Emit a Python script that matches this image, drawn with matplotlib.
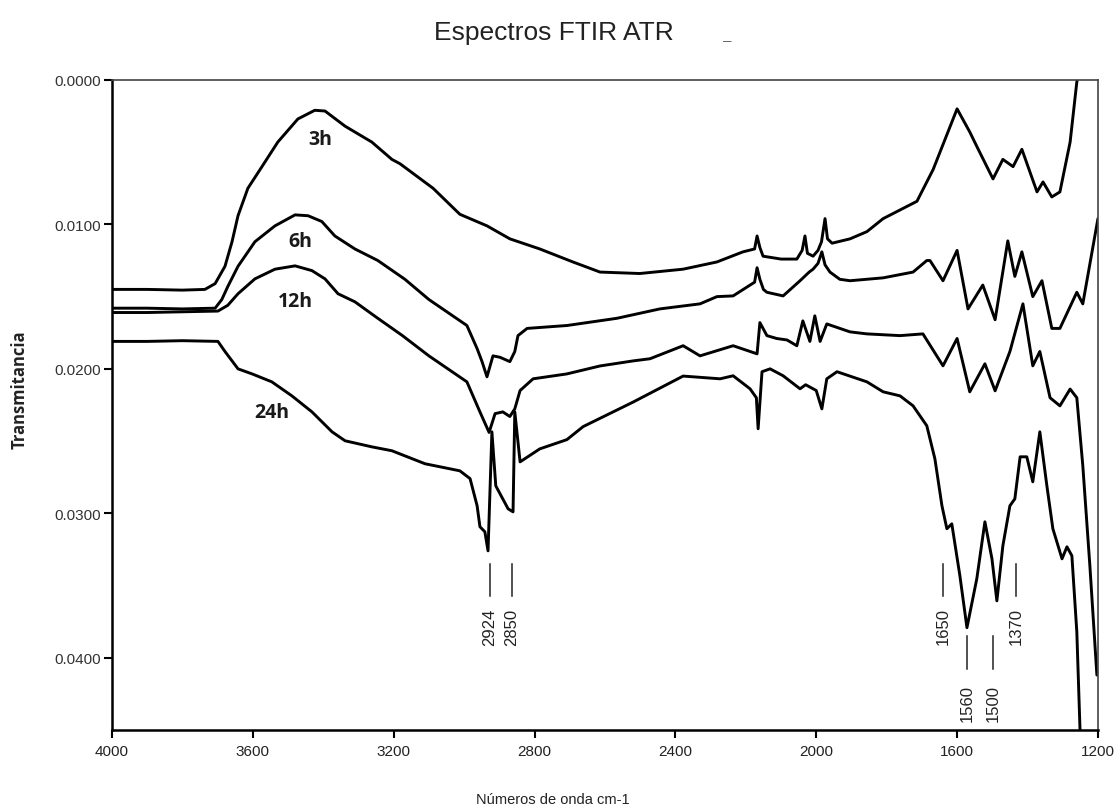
import matplotlib
matplotlib.use("Agg")
import matplotlib.pyplot as plt
import numpy as np

# ---- data (wavenumber cm-1, transmittance in units of 1e-4) ----
wn_3h = [4000, 3900, 3800, 3736, 3707, 3679, 3659, 3642, 3614, 3574,
         3529, 3472, 3424, 3395, 3338, 3262, 3205, 3182, 3088, 3012,
         2935, 2870, 2785, 2691, 2614, 2501, 2378, 2282, 2208, 2175,
         2168, 2160, 2151, 2100, 2055, 2040, 2032, 2025, 2009, 1995,
         1985, 1975, 1968, 1955, 1904, 1856, 1810, 1714, 1668, 1600,
         1564, 1544, 1498, 1470, 1441, 1416, 1373, 1356, 1331, 1308,
         1279, 1260, 1250]
tr_3h = [145, 145, 145.5, 145, 141, 129, 112, 94, 75, 60,
         43, 27, 21, 21.5, 32, 43, 55, 58, 75, 93,
         101, 110, 117, 126, 133, 134, 131, 126, 119, 117,
         108, 116, 122, 124, 124, 118, 108, 120, 122, 118,
         112, 96, 110, 113, 110, 105, 96, 84, 62, 20,
         36, 46, 68.5, 55, 60, 48, 77.5, 70.6, 81, 77.5,
         43, 1.4, -10]

wn_6h = [4000, 3900, 3800, 3707, 3688, 3671, 3642, 3594, 3537, 3480,
         3443, 3404, 3367, 3310, 3245, 3168, 3100, 2992, 2963, 2949,
         2935, 2918, 2898, 2870, 2856, 2847, 2821, 2708, 2566, 2444,
         2330, 2282, 2236, 2175, 2168, 2160, 2150, 2140, 2094, 2046,
         2020, 2009, 1995, 1984, 1975, 1961, 1933, 1904, 1810, 1725,
         1686, 1677, 1640, 1600, 1569, 1527, 1492, 1456, 1436, 1416,
         1385, 1359, 1331, 1308, 1260, 1243, 1200]
tr_6h = [158, 158, 158.5, 158, 152, 143, 129, 112, 101, 93.4,
         94, 98, 108, 117, 125, 138, 152, 170, 186, 195,
         205.5, 191, 192, 195, 188, 177, 172, 170, 165, 158.5,
         155, 150, 149.5, 140, 130, 138, 145, 147, 149.5, 139,
         133, 131, 127, 119, 128, 133, 138, 139, 137, 133,
         125, 125, 139, 118, 158.5, 142, 166, 111.4, 136, 119,
         150, 139, 172, 172, 147, 155, 96]

wn_12h = [4000, 3900, 3800, 3699, 3671, 3642, 3594, 3537, 3480, 3432,
          3395, 3358, 3310, 3245, 3175, 3100, 2992, 2955, 2929, 2912,
          2890, 2870, 2856, 2841, 2804, 2708, 2614, 2520, 2472, 2378,
          2330, 2236, 2168, 2160, 2140, 2112, 2083, 2055, 2038, 2018,
          2004, 1989, 1970, 1933, 1904, 1856, 1762, 1697, 1640, 1600,
          1564, 1521, 1492, 1450, 1413, 1385, 1365, 1336, 1308, 1279,
          1260, 1243, 1223, 1203]
tr_12h = [161, 161, 160.5, 160, 156, 148, 137.7, 131, 128.7, 132,
          137.7, 148, 153.6, 165, 177, 191, 209, 229.8, 244, 231,
          229.8, 233, 227.7, 215, 206.9, 203.5, 198, 194.5, 193, 184,
          191, 184, 189.6, 168, 177, 179, 180, 184, 166.8, 181,
          163.3, 181, 168.9, 172, 174.4, 175.8, 177, 175.8, 197.9, 179,
          215.9, 196.5, 215.2, 188, 155, 197.9, 188, 220, 225.6, 214,
          220, 267, 336, 412]

wn_24h = [4000, 3900, 3800, 3699, 3679, 3642, 3602, 3546, 3489, 3432,
          3375, 3338, 3262, 3205, 3111, 3012, 2983, 2963, 2955, 2941,
          2932, 2921, 2910, 2875, 2861, 2856, 2841, 2785, 2708, 2662,
          2520, 2378, 2273, 2236, 2188, 2170, 2165, 2154, 2131, 2094,
          2046, 2030, 2000, 1984, 1970, 1941, 1856, 1810, 1762, 1725,
          1686, 1663, 1643, 1629, 1615, 1592, 1572, 1544, 1521, 1501,
          1487, 1470, 1450, 1436, 1421, 1402, 1385, 1365, 1345, 1328,
          1302, 1288, 1274, 1260, 1251, 1245]
tr_24h = [181, 181, 180.5, 181, 188, 200, 203.5, 209, 218.7, 229.8,
          243.6, 249.8, 254, 256.7, 265.7, 270.6, 276, 294.8, 309.3, 312.8,
          326, 243.6, 281, 296.9, 299, 229.8, 264.4, 255.4, 249, 240,
          223, 205, 206.9, 204.8, 213.8, 220, 241.5, 202, 200, 204.8,
          213.8, 211, 215, 227.7, 206.9, 202, 209, 215.9, 218.7, 225.6,
          239.4, 262.3, 294.8, 310.7, 307.3, 343.3, 379.2, 345.3, 305.9, 331.5,
          360.6, 322.5, 294.8, 290, 260.9, 260.9, 278.2, 243.6, 281, 310.7,
          331.5, 323.2, 329.4, 382, 449.1, 470]

series_names = ["3h", "6h", "12h", "24h"]
label_wn = [3409, 3466, 3480, 3546]
label_tr = [40.8, 111.4, 152.9, 229.8]

peak_labels = ["2924", "2850", "1650", "1560", "1500", "1370"]
peak_wn = [2927, 2864, 1640, 1572, 1498, 1433]
peak_low = [True, True, True, False, False, True]

x_ticks = [4000, 3600, 3200, 2800, 2400, 2000, 1600, 1200]
y_ticks = [0.0, 0.01, 0.02, 0.03, 0.04]
y_tick_labels = ["0.0000", "0.0100", "0.0200", "0.0300", "0.0400"]

SCALE = 1e-4

fig = plt.figure(figsize=(11.15, 8.12), dpi=100)
ax = fig.add_axes([0.1004, 0.0998, 0.8843, 0.8005])

for wn, tr in [(wn_3h, tr_3h), (wn_6h, tr_6h), (wn_12h, tr_12h), (wn_24h, tr_24h)]:
    ax.plot(wn, np.array(tr) * SCALE, color="black", lw=2.1,
            solid_joinstyle="round", solid_capstyle="round")

for name, lx, ly in zip(series_names, label_wn, label_tr):
    ax.text(lx, ly * SCALE, name, ha="center", va="center", fontsize=14,
            fontweight="bold", family=["Open Sans", "DejaVu Sans"], color="#1a1a1a")

for lab, px, low in zip(peak_labels, peak_wn, peak_low):
    if low:
        y0, y1, yt = 0.0335, 0.0357, 0.0378
    else:
        y0, y1, yt = 0.0385, 0.0408, 0.0431
    ax.plot([px, px], [y0, y1], color="#222222", lw=1.1)
    ax.text(px, yt, lab, rotation=90, ha="center", va="center", fontsize=12,
            family=["Liberation Sans", "DejaVu Sans"], color="#222222")

ax.set_xlim(4000, 1200)
ax.set_ylim(0.045, 0.0)
ax.set_xticks(x_ticks)
ax.set_xticklabels([str(v) for v in x_ticks],
                   family=["Liberation Sans Narrow", "Liberation Sans"], fontsize=11,
                   color="#222222")
ax.set_yticks(y_ticks)
ax.set_yticklabels(y_tick_labels, family=["Liberation Sans", "DejaVu Sans"],
                   fontsize=11, color="#333333")
ax.tick_params(axis="both", direction="out", length=6, width=1.5, color="black")
ax.tick_params(axis="y", pad=2)
ax.tick_params(axis="x", pad=4)

for side in ["left", "bottom"]:
    ax.spines[side].set_linewidth(1.8)
    ax.spines[side].set_color("black")
for side in ["top", "right"]:
    ax.spines[side].set_linewidth(1.2)
    ax.spines[side].set_color("#444444")

fig.text(0.497, 1 - 33 / 812, "Espectros FTIR ATR", ha="center", va="center",
         fontsize=19, family=["Liberation Sans", "DejaVu Sans"], color="#222222")
fig.text(727 / 1115, 1 - 41 / 812, "–", ha="center", va="center",
         fontsize=11, family=["Liberation Sans", "DejaVu Sans"], color="#666666")
fig.text(0.496, 1 - 800 / 812, "Números de onda cm-1", ha="center", va="center",
         fontsize=10.5, family=["Liberation Sans Narrow", "Liberation Sans"], color="#222222")
fig.text(20 / 1115, 1 - 390 / 812, "Transmitancia", ha="center", va="center",
         rotation=90, fontsize=12, fontweight="bold",
         family=["Open Sans", "DejaVu Sans"], color="#222222")

fig.savefig("out.png", dpi=100)
